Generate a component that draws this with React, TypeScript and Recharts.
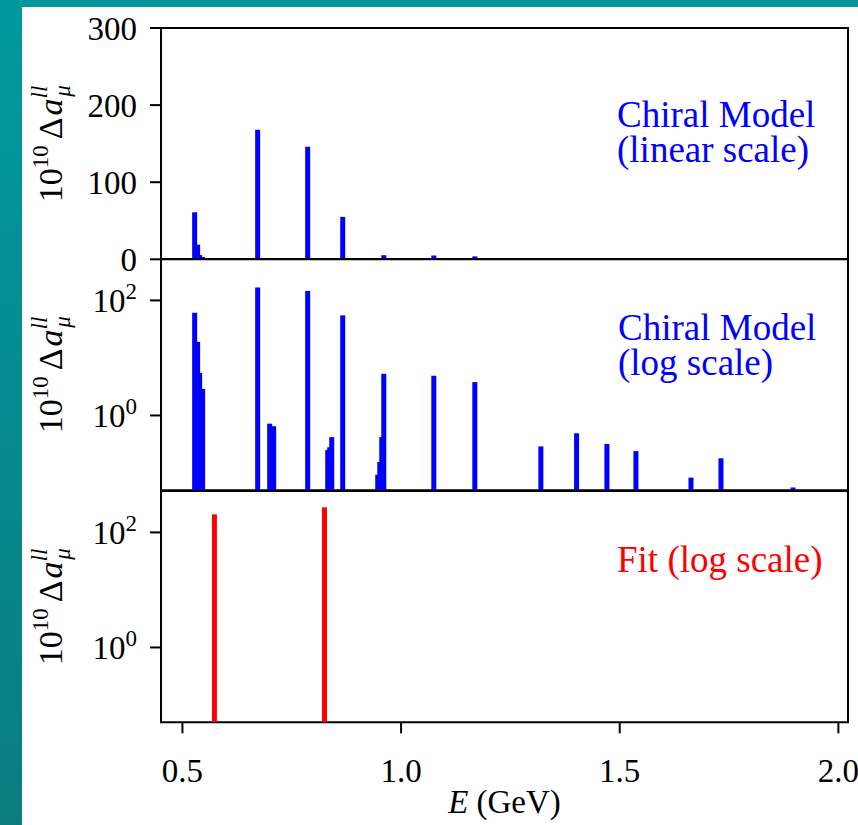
import React from "react";
import { ComposedChart, Bar, XAxis, YAxis, ReferenceArea } from "recharts";

// bin centres (GeV) and contributions
const energies = [
  0.5275, 0.5343, 0.5389, 0.5458, 0.6716, 0.6991, 0.7082, 0.786, 0.8318, 0.8364,
  0.841, 0.8661, 0.9462, 0.9508, 0.9554, 0.96, 1.0744, 1.1682, 1.3192, 1.4009,
  1.4703, 1.5366, 1.6625, 1.7311, 1.8959,
];
const chiralValues = [
  61, 19, 5.5, 2.9, 168, 0.72, 0.65, 146, 0.25, 0.28,
  0.42, 55, 0.093, 0.155, 0.42, 5.3, 4.9, 3.8, 0.29, 0.49,
  0.32, 0.24, 0.083, 0.18, 0.056,
];
const fitEnergies = [0.5732, 0.8249];
const fitValues = [206, 273];

const xTicks = [0.5, 1.0, 1.5, 2.0];
const linearTicks = [0, 100, 200, 300];
const logTicks = [1, 100];

const chiralData = energies.map((e, i) => ({ e, v: chiralValues[i] }));
const fitData = fitEnergies.map((e, i) => ({ e, v: fitValues[i] }));

const X_DOMAIN = [0.451, 2.022];
const LIN_DOMAIN = [0, 300];
const LOG_DOMAIN = [0.05, 525];
const FONT = "Liberation Serif, DejaVu Serif, Noto Serif, serif";
const PLOT_H = 231.3;
const PAD = 24;
const BAR_W = 5;

const LinTick = (props: any) => {
  const { x, y, payload } = props;
  return (
    <text x={x} y={y} dy={12} textAnchor="end" fontFamily={FONT} fontSize={33} fill="#000">
      {payload.value}
    </text>
  );
};

const LogTick = (props: any) => {
  const { x, y, payload } = props;
  const exp = Math.round(Math.log10(payload.value));
  return (
    <text x={x} y={y} dy={12} textAnchor="end" fontFamily={FONT} fontSize={33} fill="#000">
      10
      <tspan fontSize={23} dy={-13}>
        {exp}
      </tspan>
    </text>
  );
};

const YLabel = (props: any) => {
  const vb = props.viewBox || { y: 0, height: PLOT_H };
  const cx = 62;
  const cy = vb.y + vb.height / 2;
  return (
    <text
      x={cx}
      y={cy}
      transform={`rotate(-90, ${cx}, ${cy})`}
      textAnchor="middle"
      fontFamily={FONT}
      fontSize={34}
      fill="#000"
    >
      10
      <tspan fontSize={23} dy={-14}>10</tspan>
      <tspan dy={14} dx={6}>{"\u0394"}</tspan>
      <tspan fontStyle="italic" dx={2}>a</tspan>
      <tspan fontStyle="italic" fontSize={23} dy={-15}>ll</tspan>
      <tspan fontStyle="italic" fontSize={23} dx={-11} dy={23}>μ</tspan>
    </text>
  );
};

const XLabel = (props: any) => {
  const vb = props.viewBox;
  const cx = vb.x + vb.width / 2;
  return (
    <text x={cx} y={vb.y + 91} textAnchor="middle" fontFamily={FONT} fontSize={33} fill="#000">
      <tspan fontStyle="italic">E</tspan>
      {" (GeV)"}
    </text>
  );
};

// keep the library's bar position, but draw it at the histogram's bin width
const binShape = (color: string) => (p: any) => (
  <rect x={p.x + p.width / 2 - BAR_W / 2} y={p.y} width={BAR_W} height={p.height} fill={color} />
);

function Panel({
  data,
  color,
  top,
  log,
  bottomAxis,
}: {
  data: { e: number; v: number }[];
  color: string;
  top: number;
  log: boolean;
  bottomAxis: boolean;
}) {
  const axisH = bottomAxis ? 100 : 0;
  const mBottom = bottomAxis ? 0 : PAD;
  const height = PAD + PLOT_H + mBottom + axisH;
  const yDomain = log ? LOG_DOMAIN : LIN_DOMAIN;
  return (
    <div style={{ position: "absolute", left: 0, top: top - PAD }}>
      <ComposedChart
        width={858}
        height={height}
        data={data}
        margin={{ top: PAD, right: 10, bottom: mBottom, left: 0 }}
      >
        <XAxis
          dataKey="e"
          type="number"
          domain={X_DOMAIN}
          allowDataOverflow
          ticks={xTicks}
          interval={0}
          hide={!bottomAxis}
          height={axisH}
          axisLine={false}
          tickSize={11}
          tickMargin={25}
          tickLine={{ stroke: "#000", strokeWidth: 2 }}
          tickFormatter={(v: number) => v.toFixed(1)}
          tick={{ fontFamily: FONT, fontSize: 33, fill: "#000" }}
          label={bottomAxis ? <XLabel /> : undefined}
        />
        <YAxis
          type="number"
          scale={log ? "log" : "linear"}
          domain={yDomain}
          allowDataOverflow
          ticks={log ? logTicks : linearTicks}
          interval={0}
          width={161}
          axisLine={false}
          tickSize={11}
          tickMargin={13}
          tickLine={{ stroke: "#000", strokeWidth: 2 }}
          tick={log ? <LogTick /> : <LinTick />}
          label={<YLabel />}
        />
        <Bar dataKey="v" fill={color} shape={binShape(color)} isAnimationActive={false} />
        <ReferenceArea
          x1={X_DOMAIN[0]}
          x2={X_DOMAIN[1]}
          y1={yDomain[0]}
          y2={yDomain[1]}
          fill="none"
          fillOpacity={0}
          stroke="#000"
          strokeWidth={2}
          ifOverflow="visible"
        />
      </ComposedChart>
    </div>
  );
}

const noteStyle: React.CSSProperties = {
  position: "absolute",
  fontFamily: FONT,
  fontSize: 37,
  lineHeight: "35px",
  whiteSpace: "pre",
};

export default function App() {
  return (
    <div
      style={{
        position: "absolute",
        left: 0,
        top: 0,
        width: 858,
        height: 825,
        background: "#fff",
        overflow: "hidden",
      }}
    >
      <div
        style={{
          position: "absolute",
          left: 0,
          top: 0,
          width: 22,
          height: 825,
          background: "linear-gradient(#00999d, #0b7d81)",
        }}
      />
      <div
        style={{ position: "absolute", left: 0, top: 0, width: 858, height: 7, background: "#00989c" }}
      />
      <Panel data={chiralData} color="#0000ff" top={28} log={false} bottomAxis={false} />
      <Panel data={chiralData} color="#0000ff" top={28 + PLOT_H} log={true} bottomAxis={false} />
      <Panel data={fitData} color="#ff0000" top={28 + 2 * PLOT_H} log={true} bottomAxis={true} />
      <div style={{ ...noteStyle, left: 617, top: 97, color: "#0000ff" }}>
        {"Chiral Model\n(linear scale)"}
      </div>
      <div style={{ ...noteStyle, left: 618, top: 310, color: "#0000ff" }}>
        {"Chiral Model\n(log scale)"}
      </div>
      <div style={{ ...noteStyle, left: 617, top: 542, color: "#ff0000" }}>
        {"Fit (log scale)"}
      </div>
    </div>
  );
}
